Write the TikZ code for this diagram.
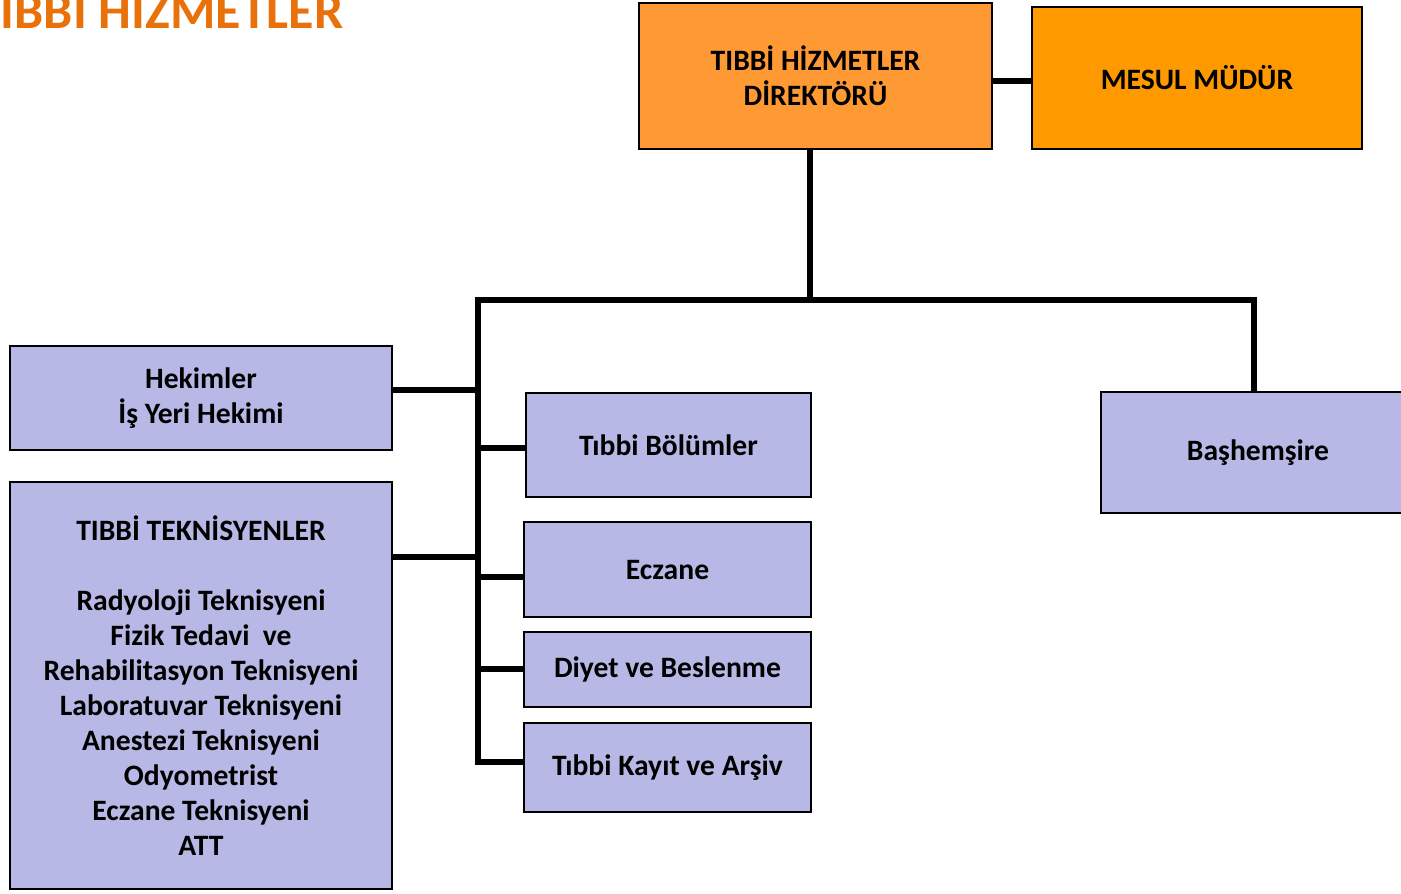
\documentclass[tikz,border=0pt]{standalone}
\usepackage{fontspec}
\setmainfont{Carlito}
\definecolor{titleorange}{RGB}{232,113,10}
\definecolor{dirorange}{RGB}{255,153,51}
\definecolor{mesulorange}{RGB}{255,153,0}
\definecolor{lavender}{RGB}{184,184,230}
\begin{document}
\begin{tikzpicture}[x=0.75pt, y=-0.75pt,
  node font=\bfseries\fontsize{22.2}{26.25}\selectfont,
  box/.style={draw, line width=1.3pt, fill=lavender, align=center, inner sep=0pt},
  link/.style={line width=4pt}]
  \useasboundingbox (0,0) rectangle (1401,893);
  \node [anchor=base west, text=titleorange, font=\bfseries\fontsize{39}{47}\selectfont]
    (title) at (-35,28) {TIBBİ HİZMETLER};
  \node [box, fill=dirorange, minimum width=264.75pt, minimum height=109.5pt]
    (dir) at (815.5,76) {TIBBİ HİZMETLER\\DİREKTÖRÜ};
  \node [box, fill=mesulorange, minimum width=247.5pt, minimum height=106.5pt]
    (mesul) at (1197,78) {MESUL MÜDÜR};
  \node [box, minimum width=235.5pt, minimum height=90.75pt]
    (bas) at (1258,452.5) {Başhemşire};
  \node [box, minimum width=286.5pt, minimum height=78pt]
    (hek) at (201,398) {Hekimler\\İş Yeri Hekimi};
  \node [box, minimum width=286.5pt, minimum height=305.25pt]
    (tek) at (201,685.5) {TIBBİ TEKNİSYENLER\\ \\Radyoloji Teknisyeni\\Fizik Tedavi~ ve\\Rehabilitasyon Teknisyeni\\Laboratuvar Teknisyeni\\Anestezi Teknisyeni\\Odyometrist\\Eczane Teknisyeni\\ATT};
  \node [box, minimum width=213.75pt, minimum height=78pt]
    (bol) at (668.5,445) {Tıbbi Bölümler};
  \node [box, minimum width=215.25pt, minimum height=71.25pt]
    (ecz) at (667.5,569.5) {Eczane};
  \node [box, minimum width=215.25pt, minimum height=56.25pt]
    (diy) at (667.5,669.5) {Diyet ve Beslenme};
  \node [box, minimum width=215.25pt, minimum height=66.75pt]
    (kay) at (667.5,767.5) {Tıbbi Kayıt ve Arşiv};
  \coordinate (busL) at (478,300);
  \coordinate (busM) at (810,300);
  \coordinate (busR) at (1254,300);
  \coordinate (jHek) at (478,390);
  \coordinate (jTek) at (478,557);
  \coordinate (jBol) at (478,448);
  \coordinate (jEcz) at (478,577);
  \coordinate (jDiy) at (478,669);
  \coordinate (jKay) at (478,762);
  \draw [link]
    ([yshift=-3.75pt]dir.east) -- ([yshift=-3.75pt]dir.east -| mesul.west);
  \draw [link]
    (busM |- dir.south) -- (busM);
  \draw [link]
    (jKay -| kay.west) -- (jKay) -- (busL) -- (busR) -- (busR |- bas.north);
  \draw [link] (jHek) -- (jHek -| hek.east);
  \draw [link] (jTek) -- (jTek -| tek.east);
  \draw [link] (jBol) -- (jBol -| bol.west);
  \draw [link] (jEcz) -- (jEcz -| ecz.west);
  \draw [link] (jDiy) -- (jDiy -| diy.west);
\end{tikzpicture}
\end{document}
